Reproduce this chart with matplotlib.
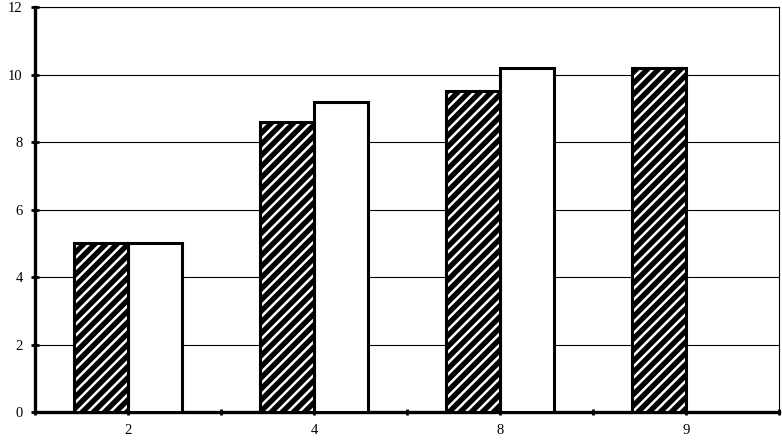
import numpy as np
import matplotlib
matplotlib.use("Agg")
import matplotlib.pyplot as plt

categories = ["2", "4", "8", "9"]
hatched_vals = [5.0, 8.6, 9.5, 10.2]
white_vals = [5.0, 9.2, 10.2, np.nan]

plt.rcParams['font.family'] = ['Liberation Serif', 'DejaVu Serif']
plt.rcParams['hatch.linewidth'] = 1.8

fig = plt.figure(figsize=(7.82, 4.43), dpi=100)
ax = fig.add_axes([0.0448, 0.07, 0.9514, 0.914])

x = np.arange(len(categories))
w = 0.29

# hatched series: black with white stripes, then a black outline on top
ax.bar(x - w / 2, hatched_vals, w, color='black', edgecolor='white', hatch='///', linewidth=0, zorder=3)
ax.bar(x - w / 2, hatched_vals, w, facecolor='none', edgecolor='black', linewidth=2.2, zorder=4)
ax.bar(x + w / 2, white_vals, w, color='white', edgecolor='black', linewidth=2.2, zorder=3)

ax.set_xlim(-0.5, 3.5)
ax.set_ylim(0, 12)
ax.set_yticks(np.arange(0, 13, 2))
ax.set_xticks(x)
ax.set_xticklabels(categories)
ax.set_xticks(np.arange(-0.5, 3.6, 1.0), minor=True)

ax.grid(axis='y', color='black', linewidth=0.8, zorder=0)
ax.set_axisbelow(True)

for s in ['left', 'bottom']:
    ax.spines[s].set_linewidth(2.4)
for s in ['top', 'right']:
    ax.spines[s].set_linewidth(0.8)

ax.tick_params(axis='y', direction='inout', length=6, width=2, labelsize=10.5, pad=6)
ax.tick_params(axis='x', which='both', direction='inout', length=5, width=2, labelsize=10.5, pad=6)

fig.savefig("out.png", dpi=100)
